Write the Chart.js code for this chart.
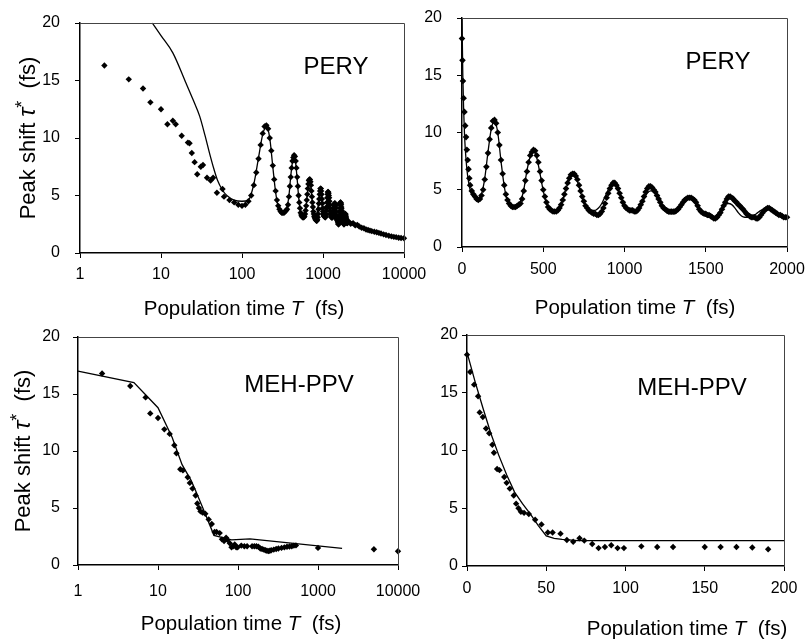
<!DOCTYPE html>
<html><head><meta charset="utf-8">
<script src="https://cdn.jsdelivr.net/npm/chart.js@4/dist/chart.umd.min.js"></script>
<style>
html,body{margin:0;padding:0;background:#fff;}
#wrap{position:relative;width:807px;height:643px;overflow:hidden;}
canvas{position:absolute;left:0;top:0;}
</style></head><body>
<div id="wrap">
<canvas id="c1" width="807" height="643"></canvas>
<canvas id="c2" width="807" height="643"></canvas>
<canvas id="c3" width="807" height="643"></canvas>
<canvas id="c4" width="807" height="643"></canvas>
</div>
<script>
// ---------- tick labels ----------
const xTicksLog = [1, 10, 100, 1000, 10000];
const xTicksPery = [0, 500, 1000, 1500, 2000];
const xTicksMeh = [0, 50, 100, 150, 200];
const yTicks = [0, 5, 10, 15, 20];

// ---------- PERY experiment (diamonds) ----------
const peryT = [0,3,6,10,15,20,25,30,35,40,45,50,
60,70,80,90,100,110,120,130,140,150,
160,170,180,190,200,210,220,230,240,250,
260,270,280,290,300,310,320,330,340,350,
360,370,380,390,400,410,420,430,440,450,
460,470,480,490,500,510,520,530,540,550,
560,570,580,590,600,610,620,630,640,650,
660,670,680,690,700,710,720,730,740,750,
760,770,780,790,800,810,820,830,840,850,
860,870,880,890,900,910,920,930,940,950,
960,970,980,990,1000,1010,1020,1030,1040,1050,
1060,1070,1080,1090,1100,1110,1120,1130,1140,1150,
1160,1170,1180,1190,1200,1210,1220,1230,1240,1250,
1260,1270,1280,1290,1300,1310,1320,1330,1340,1350,
1360,1370,1380,1390,1400,1410,1420,1430,1440,1450,
1460,1470,1480,1490,1500,1510,1520,1530,1540,1550,
1560,1570,1580,1590,1600,1610,1620,1630,1640,1650,
1660,1670,1680,1690,1700,1710,1720,1730,1740,1750,
1760,1770,1780,1790,1800,1810,1820,1830,1840,1850,
1860,1870,1880,1890,1900,1910,1920,1930,1940,1950,
1960,1970,1980,1990,2000];
const peryV = [18.2,16.3,14.5,13.0,11.8,10.6,9.6,8.5,7.6,6.8,6.0,5.4,
4.9,4.6,4.4,4.2,4.1,4.2,4.5,5.0,5.9,7.0,
8.2,9.4,10.4,11.0,11.1,10.8,10.0,8.9,7.6,6.4,
5.4,4.6,4.1,3.8,3.6,3.5,3.5,3.5,3.6,3.7,
3.8,4.2,4.9,5.8,6.6,7.4,8.0,8.3,8.5,8.4,
8.0,7.4,6.6,5.8,5.0,4.4,3.9,3.5,3.3,3.2,
3.1,3.1,3.1,3.2,3.4,3.7,4.1,4.6,5.1,5.6,
6.0,6.3,6.4,6.4,6.2,5.9,5.4,4.9,4.4,4.0,
3.6,3.4,3.2,3.1,3.0,2.9,2.9,2.8,2.8,2.9,
3.1,3.4,3.8,4.3,4.7,5.1,5.4,5.6,5.6,5.4,
5.1,4.7,4.3,3.9,3.6,3.4,3.3,3.2,3.2,3.2,
3.1,3.1,3.2,3.4,3.7,4.0,4.4,4.8,5.1,5.3,
5.3,5.2,5.0,4.8,4.5,4.2,3.9,3.6,3.4,3.3,
3.2,3.1,3.1,3.1,3.1,3.1,3.2,3.3,3.5,3.7,
3.9,4.1,4.2,4.3,4.3,4.3,4.2,4.1,3.9,3.6,
3.3,3.1,3.0,2.9,2.9,2.8,2.8,2.7,2.6,2.5,
2.5,2.6,2.8,3.0,3.3,3.6,3.9,4.2,4.4,4.4,
4.3,4.2,4.0,3.9,3.7,3.6,3.4,3.3,3.1,2.9,
2.8,2.7,2.6,2.6,2.6,2.5,2.5,2.6,2.8,3.0,
3.2,3.3,3.4,3.4,3.3,3.2,3.1,3.0,2.9,2.8,
2.8,2.7,2.6,2.6,2.6];
// early points as seen on the log panel
const peryLogEarlyT = [2,4,6,7.4,10,12,14,15.2,18,21.5,22.5,24,26,28,31,33,37,41,44,49,57.5];
const peryLogEarlyV = [16.3,15.1,14.3,13.1,12.5,11.2,11.5,11.2,10.2,9.6,9.55,8.7,7.9,6.85,7.5,7.65,6.55,6.3,6.55,5.24,5.56];
// long-time tail (log panel only)
const peryTailT = [2100,2200,2350,2500,2650,2800,3000,3200,3400,3600,3800,4000,4300,4600,4900,5200,5600,6000,6500,7000,7500,8000,8600,9200,10000];
const peryTailV = [2.7,2.55,2.6,2.4,2.45,2.3,2.2,2.15,2.05,2.0,1.95,1.9,1.85,1.8,1.75,1.7,1.62,1.57,1.5,1.45,1.4,1.38,1.33,1.3,1.28];

// ---------- PERY fit (line) ----------
const peryFitT = [0,5,10,15,20,30,40,50,60,80,100,120,
140,160,180,200,220,240,260,280,300,320,
340,360,380,400,420,440,460,480,500,520,
540,560,580,600,620,640,660,680,700,720,
740,760,780,800,820,840,860,880,900,920,
940,960,980,1000,1020,1040,1060,1080,1100,1120,
1140,1160,1180,1200,1220,1240,1260,1280,1300,1320,
1340,1360,1380,1400,1420,1440,1460,1480,1500,1520,
1540,1560,1580,1600,1620,1640,1660,1680,1700,1720,
1740,1760,1780,1800,1820,1840,1860,1880,1900,1920,
1940,1960,1980,2000];
const peryFitV = [20,15.0,12.0,10.0,8.6,6.8,5.7,5.0,4.6,4.3,4.2,4.6,
6.0,8.3,10.3,11.0,10.0,7.5,5.3,4.0,3.6,3.6,
3.7,4.0,5.0,6.7,7.9,8.3,7.8,6.4,4.9,3.8,
3.3,3.2,3.2,3.4,4.1,5.1,5.9,6.3,6.1,5.3,
4.3,3.6,3.3,3.2,3.2,3.4,3.8,4.4,5.0,5.4,
5.4,5.0,4.3,3.7,3.3,3.1,3.1,3.2,3.6,4.2,
4.7,4.9,4.8,4.4,3.8,3.3,3.0,2.9,2.9,3.0,
3.4,3.8,4.1,4.2,4.1,3.7,3.2,2.9,2.7,2.6,
2.6,2.7,3.0,3.4,3.7,3.8,3.7,3.4,3.0,2.7,
2.6,2.6,2.7,2.8,3.0,3.2,3.3,3.3,3.2,3.0,
2.8,2.7,2.6,2.5];
const peryFitLogEarlyT = [7.8,10,14,20,25,30,35,40,45,50,57,65,80,100,120];
const peryFitLogEarlyV = [20,18.9,17.4,14.9,13.3,11.9,10.2,8.6,7.3,6.3,5.5,5.0,4.6,4.5,4.6];
const peryFitTailT = [2200,2500,3000,3500,4000,5000,6000,7000,8000,10000];
const peryFitTailV = [2.5,2.35,2.15,2.0,1.88,1.7,1.57,1.45,1.37,1.25];

// ---------- MEH-PPV experiment (diamonds) ----------
const mehT = [0,2,4.5,7,8,10,12,14,16,17,19,20.5,23.5,25,27,29.5,31,32.5,34,36,39,43,47,51,54,59,63,67,71,74,79,83,87,91,95,99,110,120,130,150,160,170,180,190];
const mehV = [18.3,16.8,15.7,14.7,13.3,12.9,11.9,11.5,10.5,9.8,8.4,8.3,7.7,7.2,6.7,6.1,5.4,5.0,4.7,4.6,4.5,4.0,3.6,2.9,2.9,2.8,2.25,2.1,2.4,2.2,1.9,1.55,1.65,1.8,1.55,1.55,1.7,1.65,1.65,1.65,1.65,1.65,1.6,1.45];
const mehLongT = [200,210,220,230,240,250,260,280,300,320,350,380,410,440,470,500,530,1000,5000,10000];
const mehLongV = [1.4,1.35,1.3,1.25,1.22,1.25,1.3,1.35,1.4,1.45,1.5,1.55,1.6,1.62,1.65,1.7,1.72,1.5,1.38,1.2];

// ---------- MEH-PPV fits (lines) ----------
const mehFitT = [0,5,10,15,20,25,30,35,40,45,50,55,60,70,80,200];
const mehFitV = [18.5,16.0,13.7,11.5,9.6,7.9,6.4,5.4,4.5,3.5,2.6,2.4,2.3,2.2,2.2,2.2];
const mehFitLogT = [1,5,10,15,20,26,30,40,50,83,141,2000];
const mehFitLogV = [17.0,16.0,13.8,11.2,8.8,7.4,6.4,4.3,2.6,2.2,2.3,1.45];

// ---------- helpers ----------
const FONT = "'Liberation Sans', Arial, Helvetica, sans-serif";
function pts(xs, ys, minX, maxX) {
  const out = [];
  xs.forEach((x, i) => { if ((minX === undefined || x >= minX) && (maxX === undefined || x <= maxX)) out.push({x: x, y: ys[i]}); });
  return out;
}

function drawParts(ctx, parts, cx, cy, rot) {
  ctx.save();
  ctx.translate(cx, cy);
  if (rot) ctx.rotate(rot);
  let w = 0;
  parts.forEach(p => { ctx.font = p.f; p.w = ctx.measureText(p.t).width; w += p.w; });
  let x = -w / 2;
  ctx.textAlign = 'left';
  ctx.textBaseline = 'alphabetic';
  ctx.fillStyle = '#000';
  parts.forEach(p => { ctx.font = p.f; ctx.fillText(p.t, x, p.dy || 0); x += p.w; });
  ctx.restore();
}

const XS = 20.5, YS = 22;
const xTitleParts = () => [
  {t: 'Population time ', f: XS + 'px ' + FONT, dy: 7.5},
  {t: 'T', f: 'italic ' + XS + 'px ' + FONT, dy: 7.5},
  {t: '  (fs)', f: XS + 'px ' + FONT, dy: 7.5}
];
const yTitleParts = () => [
  {t: 'Peak shift ', f: YS + 'px ' + FONT, dy: 8},
  {t: 'τ', f: 'italic 24px ' + FONT, dy: 8},
  {t: '*', f: '18px ' + FONT, dy: 1},
  {t: '  (fs)', f: YS + 'px ' + FONT, dy: 8}
];

const textPlugin = {
  id: 'panelText',
  afterDraw(chart, args, o) {
    const ctx = chart.ctx, a = chart.chartArea;
    ctx.save();
    ctx.strokeStyle = '#444';
    ctx.lineWidth = 1;
    ctx.beginPath();
    ctx.moveTo(a.left, a.top + 0.5);
    ctx.lineTo(a.right + 0.5, a.top + 0.5);
    ctx.lineTo(a.right + 0.5, a.bottom);
    ctx.stroke();
    ctx.fillStyle = '#000';
    ctx.font = '24px ' + FONT;
    ctx.textAlign = 'center';
    ctx.textBaseline = 'middle';
    ctx.fillText(o.name, o.nameX, o.nameY);
    drawParts(ctx, xTitleParts(), o.xtX, o.xtY, 0);
    if (o.ytX) drawParts(ctx, yTitleParts(), o.ytX, (a.top + a.bottom) / 2, -Math.PI / 2);
    ctx.restore();
  }
};

function makeChart(id, p) {
  const W = 807, H = 643;
  const tickFont = {family: FONT, size: 16};
  new Chart(document.getElementById(id), {
    type: 'scatter',
    data: {datasets: [
      {data: p.line, showLine: true, pointRadius: 0, borderColor: '#000', borderWidth: 1.3,
       cubicInterpolationMode: p.smooth ? 'monotone' : 'default', tension: 0, clip: false},
      {data: p.pts, showLine: false, pointStyle: 'rectRot', pointRadius: p.r, backgroundColor: '#000', borderColor: '#000', borderWidth: 0, clip: false}
    ]},
    plugins: [textPlugin],
    options: {
      responsive: false, animation: false, events: [],
      layout: {padding: {left: 0, top: p.area.t, right: W - p.area.r, bottom: 0}},
      plugins: {legend: {display: false}, tooltip: {enabled: false}, panelText: p.text},
      scales: {
        x: {
          type: p.log ? 'logarithmic' : 'linear', min: p.xTicks[0], max: p.xTicks[p.xTicks.length - 1],
          afterBuildTicks: s => { s.ticks = p.xTicks.map(v => ({value: v})); },
          afterFit: s => { s.height = H - p.area.b; s.paddingLeft = 0; s.paddingRight = 0; },
          ticks: {callback: v => String(v), autoSkip: false, maxRotation: 0, padding: p.xPad, font: tickFont, color: '#000'},
          grid: {drawOnChartArea: false, drawTicks: true, tickLength: 5, color: '#000', lineWidth: 1},
          border: {color: '#000', width: 1.5}
        },
        y: {
          type: 'linear', min: 0, max: 20,
          afterBuildTicks: s => { s.ticks = yTicks.map(v => ({value: v})); },
          afterFit: s => { s.width = p.area.l; s.paddingTop = 0; s.paddingBottom = 0; },
          ticks: {callback: v => String(v), padding: p.yPad, font: tickFont, color: '#000'},
          grid: {drawOnChartArea: false, drawTicks: true, tickLength: 5, color: '#000', lineWidth: 1},
          border: {color: '#000', width: 1.5}
        }
      }
    }
  });
}

// Panel 1: PERY, log time
makeChart('c1', {
  log: true, xTicks: xTicksLog, area: {l: 80, t: 23, r: 404, b: 253}, xPad: 7, yPad: 15, r: 3.2, smooth: true,
  pts: pts(peryLogEarlyT, peryLogEarlyV).concat(pts(peryT, peryV, 60)).concat(pts(peryTailT, peryTailV)),
  line: pts(peryFitLogEarlyT, peryFitLogEarlyV).concat(pts(peryFitT, peryFitV, 140)).concat(pts(peryFitTailT, peryFitTailV)),
  text: {name: 'PERY', nameX: 336, nameY: 67, xtX: 244, xtY: 307, ytX: 27}
});
// Panel 2: PERY, linear time
makeChart('c2', {
  log: false, xTicks: xTicksPery, area: {l: 462, t: 18, r: 787, b: 247}, xPad: 8, yPad: 15, r: 3.3, smooth: true,
  pts: pts(peryT, peryV), line: pts(peryFitT, peryFitV),
  text: {name: 'PERY', nameX: 718, nameY: 62, xtX: 635, xtY: 306}
});
// Panel 3: MEH-PPV, log time
makeChart('c3', {
  log: true, xTicks: xTicksLog, area: {l: 78, t: 337, r: 398, b: 565}, xPad: 12, yPad: 13, r: 3.2, smooth: false,
  pts: pts(mehT, mehV, 1).concat(pts(mehLongT, mehLongV)), line: pts(mehFitLogT, mehFitLogV),
  text: {name: 'MEH-PPV', nameX: 299, nameY: 385, xtX: 241, xtY: 622, ytX: 22}
});
// Panel 4: MEH-PPV, linear time
makeChart('c4', {
  log: false, xTicks: xTicksMeh, area: {l: 467, t: 335, r: 784, b: 566}, xPad: 8, yPad: 4, r: 3.2, smooth: false,
  pts: pts(mehT, mehV), line: pts(mehFitT, mehFitV),
  text: {name: 'MEH-PPV', nameX: 692, nameY: 388, xtX: 687, xtY: 627}
});
</script>
</body></html>
